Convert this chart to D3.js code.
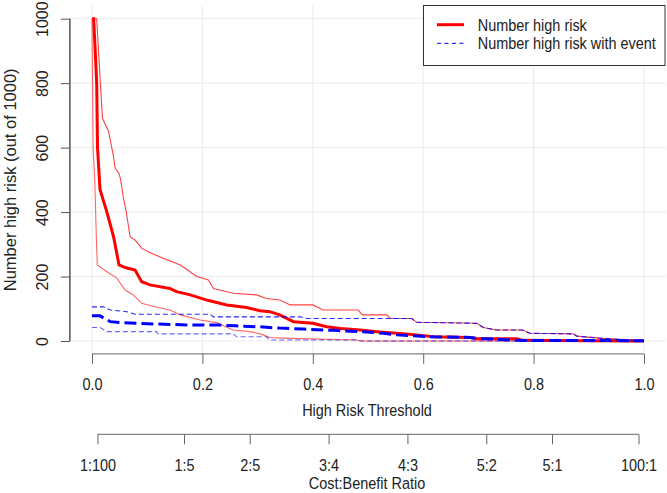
<!DOCTYPE html>
<html><head><meta charset="utf-8">
<script src="https://cdn.jsdelivr.net/npm/d3@7"></script>
<style>
html,body{margin:0;padding:0;background:#fff;}
svg text{font-family:"Liberation Sans",Arial,sans-serif;fill:#222;}
</style></head>
<body><svg id="chart" width="667" height="493"></svg>
<script>
// ---- data ----
const xTicks = [0, 0.2, 0.4, 0.6, 0.8, 1.0];
const yTicks = [0, 200, 400, 600, 800, 1000];
const cbCost = [1, 1, 2, 3, 4, 5, 5, 100];
const cbBenefit = [100, 5, 5, 4, 3, 2, 1, 1];
const cbLabels = ["1:100", "1:5", "2:5", "3:4", "4:3", "5:2", "5:1", "100:1"];

const hrT = [0, 0.003, 0.005, 0.0085, 0.010, 0.0145, 0.027, 0.039, 0.049, 0.060, 0.078, 0.090, 0.105, 0.141, 0.153, 0.178, 0.208, 0.244, 0.28, 0.304, 0.322, 0.34, 0.365, 0.40, 0.425, 0.45, 0.486, 0.516, 0.552, 0.588, 0.618, 0.685, 0.697, 0.77, 0.78, 0.9, 1.0];
const hrV = [1000, 1000, 930, 800, 600, 470, 400, 324, 236, 228, 220, 184, 174, 163, 153, 143, 127, 112, 104, 94, 91, 81, 60, 55, 44, 39, 34, 29, 24, 19, 13, 11, 7, 7, 2, 1, 0];

const hrHiT = [0, 0.0085, 0.0145, 0.019, 0.030, 0.039, 0.042, 0.049, 0.052, 0.057, 0.062, 0.069, 0.078, 0.09, 0.105, 0.129, 0.16, 0.19, 0.211, 0.22, 0.256, 0.298, 0.316, 0.34, 0.359, 0.40, 0.419, 0.482, 0.49, 0.534, 0.54, 0.579, 0.588, 0.697, 0.709, 0.733, 0.78, 0.793, 0.872, 0.878, 0.926, 0.975, 1.0];
const hrHiV = [1000, 1000, 820, 691, 650, 572, 536, 520, 500, 443, 401, 324, 313, 288, 274, 257, 236, 200, 189, 163, 148, 143, 132, 127, 112, 112, 96, 96, 81, 81, 70, 70, 58, 55, 42, 34, 34, 24, 22, 15, 8, 3, 1];

const hrLoT = [0, 0.001, 0.002, 0.005, 0.008, 0.0096, 0.027, 0.045, 0.06, 0.075, 0.09, 0.114, 0.141, 0.16, 0.196, 0.226, 0.256, 0.286, 0.30, 0.31, 0.322, 0.36, 0.479, 0.49, 1.0];
const hrLoV = [1000, 800, 600, 500, 313, 236, 215, 195, 158, 143, 117, 106, 96, 81, 65, 57, 34, 29, 24, 19, 11, 8, 3, 0, 0];

const evT = [0, 0.0145, 0.033, 0.051, 0.111, 0.172, 0.226, 0.26, 0.304, 0.34, 0.383, 0.437, 0.49, 0.528, 0.552, 0.618, 0.685, 0.697, 0.74, 0.77, 1.0];
const evV = [78, 78, 60, 57, 53, 50, 50, 47, 44, 40, 37, 33, 29, 24, 19, 13, 11, 8, 5, 2, 1];

const evHiT = [0, 0.021, 0.033, 0.063, 0.078, 0.214, 0.22, 0.377, 0.39, 0.579, 0.588, 0.697, 0.709, 0.733, 0.78, 0.793, 0.872, 0.878, 0.926, 0.975, 1.0];
const evHiV = [106, 106, 96, 91, 83, 83, 75, 75, 70, 70, 58, 55, 42, 34, 34, 24, 22, 15, 8, 3, 1];

const evLoT = [0, 0.0145, 0.027, 0.117, 0.12, 0.256, 0.262, 0.316, 0.322, 0.48, 0.486, 1.0];
const evLoV = [42, 42, 29, 29, 22, 22, 13, 13, 3, 3, 0, 0];

const legendLabels = ["Number high risk", "Number high risk with event"];

// ---- layout ----
const FS = 17, SX = 0.85;
const svg = d3.select("#chart");
const x = d3.scaleLinear().domain([0, 1]).range([92, 644]);
const y = d3.scaleLinear().domain([0, 1000]).range([341, 18.7]);
const plotL = x(-0.04), plotR = x(1.04), plotT = y(1040), plotB = y(-40);

// horizontal, slightly condensed text
function hText(parent, tx, ty, str, anchor) {
  return parent.append("text")
    .attr("transform", `translate(${tx},${ty}) scale(${SX},1)`)
    .attr("text-anchor", anchor || "middle").attr("dominant-baseline", "central")
    .style("font-size", FS + "px").text(str);
}

// grid
const grid = svg.append("g");
grid.selectAll("line.v").data(xTicks).enter().append("line")
  .attr("x1", d => x(d)).attr("x2", d => x(d)).attr("y1", plotT).attr("y2", plotB)
  .attr("stroke", "#ebebeb").attr("stroke-width", 1);
grid.selectAll("line.h").data(yTicks).enter().append("line")
  .attr("x1", plotL).attr("x2", plotR).attr("y1", d => y(d)).attr("y2", d => y(d))
  .attr("stroke", "#ebebeb").attr("stroke-width", 1);

// y axis
const yAxis = svg.append("g").attr("transform", `translate(${plotL},0)`)
  .call(d3.axisLeft(y).tickValues(yTicks).tickSize(9).tickPadding(0).tickFormat(d3.format("d")));
yAxis.select(".domain").attr("stroke", "#000").attr("d", `M0,${y(0)}H0V${y(1000)}H0`);
yAxis.selectAll(".tick line").attr("stroke", "#555");
yAxis.selectAll(".tick text").attr("x", null).attr("dy", null)
  .attr("transform", `translate(${42.7 - plotL},0) rotate(-90)`)
  .attr("text-anchor", "middle").attr("dominant-baseline", "central")
  .style("font-size", "16px").attr("fill", "#222");

// x axis
const xAxis = svg.append("g").attr("transform", `translate(0,${plotB})`)
  .call(d3.axisBottom(x).tickValues(xTicks).tickSize(10).tickFormat(d3.format(".1f")));
xAxis.select(".domain").attr("stroke", "#666").attr("d", `M${x(0)},0H${x(1)}`);
xAxis.selectAll(".tick line").attr("stroke", "#666");
xAxis.selectAll(".tick text").attr("y", null).attr("dy", null)
  .attr("transform", `translate(0,${384.5 - plotB}) scale(${SX},1)`)
  .attr("dominant-baseline", "central").style("font-size", FS + "px").attr("fill", "#222");

// cost:benefit axis
const cbPos = cbCost.map((c, i) => c / (c + cbBenefit[i]));
const cbAxis = svg.append("g").attr("transform", "translate(0,434.3)")
  .call(d3.axisBottom(x).tickValues(cbPos).tickSize(10).tickFormat((d, i) => cbLabels[i]));
cbAxis.select(".domain").attr("stroke", "#666").attr("d", `M${x(cbPos[0])},0H${x(cbPos[cbPos.length - 1])}`);
cbAxis.selectAll(".tick line").attr("stroke", "#666");
cbAxis.selectAll(".tick text").attr("y", null).attr("dy", null)
  .attr("transform", `translate(0,${465 - 434.3}) scale(${SX},1)`)
  .attr("dominant-baseline", "central").style("font-size", FS + "px").attr("fill", "#222");

svg.selectAll("g").attr("font-family", null).attr("font-size", null);

// titles
hText(svg, 367, 410, "High Risk Threshold");
hText(svg, 367, 483.5, "Cost:Benefit Ratio");
svg.append("text").attr("transform", `translate(9.5,${(plotT + plotB) / 2}) rotate(-90)`)
  .attr("text-anchor", "middle").attr("dominant-baseline", "central")
  .style("font-size", "16.5px").text("Number high risk (out of 1000)");

// lines
const line = d3.line().x(d => x(d[0])).y(d => y(d[1]));
const zip = (a, b) => a.map((v, i) => [v, b[i]]);
const series = [
  { t: hrHiT, v: hrHiV, color: "#ff0000", w: 1.1, op: 0.75, dash: null },
  { t: hrLoT, v: hrLoV, color: "#ff0000", w: 1.1, op: 0.6, dash: null },
  { t: hrT, v: hrV, color: "#ff0000", w: 3, op: 1, dash: null },
  { t: evHiT, v: evHiV, color: "#0000ff", w: 1.1, op: 0.85, dash: "5,3" },
  { t: evLoT, v: evLoV, color: "#0000ff", w: 1.1, op: 0.6, dash: "5,3" },
  { t: evT, v: evV, color: "#0000ff", w: 3, op: 1, dash: "12,5" }
];
svg.append("g").selectAll("path").data(series).enter().append("path")
  .attr("d", s => line(zip(s.t, s.v)))
  .attr("fill", "none").attr("stroke", s => s.color).attr("stroke-width", s => s.w)
  .attr("stroke-opacity", s => s.op).attr("stroke-dasharray", s => s.dash)
  .attr("stroke-linejoin", "miter");

// legend
const lg = svg.append("g");
lg.append("rect").attr("x", 423.5).attr("y", 5.5).attr("width", 241.5).attr("height", 60)
  .attr("fill", "#fff").attr("stroke", "#333").attr("stroke-width", 1);
const legendItems = [
  { label: legendLabels[0], color: "#ff0000", w: 3, dash: null, yy: 24.7 },
  { label: legendLabels[1], color: "#0000ff", w: 1, dash: "4,3.5", yy: 43.3 }
];
legendItems.forEach(it => {
  lg.append("line").attr("x1", 437).attr("x2", 464).attr("y1", it.yy).attr("y2", it.yy)
    .attr("stroke", it.color).attr("stroke-width", it.w).attr("stroke-dasharray", it.dash);
  hText(lg, 477.7, it.yy, it.label, "start");
});
</script></body></html>
